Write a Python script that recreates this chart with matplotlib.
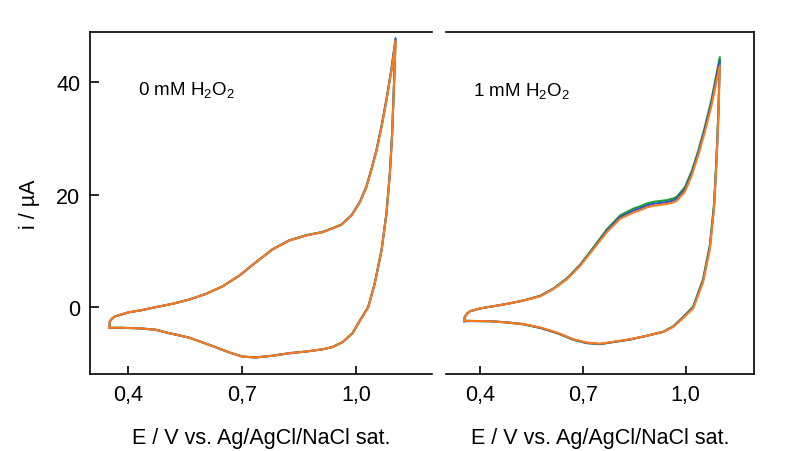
import matplotlib
matplotlib.use("Agg")
import matplotlib.pyplot as plt
from matplotlib.ticker import FixedLocator, FixedFormatter

plt.rcParams['font.family'] = ['Liberation Sans', 'DejaVu Sans']
plt.rcParams['mathtext.fontset'] = 'custom'
plt.rcParams['mathtext.rm'] = 'Liberation Sans'
plt.rcParams['mathtext.it'] = 'Liberation Sans:italic'
plt.rcParams['font.size'] = 15.5

# ---- 0 mM H2O2: anodic sweep then cathodic sweep (E in V, i in uA)
E_fwd_0 = [0.351, 0.352, 0.360, 0.367, 0.402, 0.437, 0.472, 0.516, 0.560, 0.604,
           0.648, 0.692, 0.736, 0.780, 0.824, 0.868, 0.912, 0.935, 0.961, 0.988,
           1.010, 1.027, 1.040, 1.054, 1.067, 1.080, 1.093, 1.104]
i_fwd_0_orange = [-3.75, -2.6, -2.0, -1.7, -1.0, -0.6, -0.1, 0.5, 1.25, 2.26,
                  3.6, 5.5, 7.9, 10.2, 11.8, 12.7, 13.3, 13.9, 14.6, 16.25,
                  18.6, 21.3, 24.3, 27.9, 32.0, 36.8, 42.1, 47.5]
i_fwd_0_green = [-3.75, -2.6, -2.0, -1.7, -1.0, -0.6, -0.1, 0.5, 1.25, 2.26,
                 3.6, 5.5, 7.9, 10.25, 11.85, 12.75, 13.35, 13.95, 14.65, 16.3,
                 18.65, 21.35, 24.4, 28.0, 32.1, 36.9, 42.2, 47.6]
i_fwd_0_blue = [-3.8, -2.6, -2.0, -1.7, -1.0, -0.6, -0.1, 0.5, 1.25, 2.26,
                3.6, 5.5, 7.9, 10.2, 11.8, 12.7, 13.3, 13.9, 14.6, 16.3,
                18.7, 21.4, 24.4, 28.0, 32.2, 37.0, 42.4, 47.9]

E_rev_0 = [1.104, 1.100, 1.095, 1.089, 1.080, 1.067, 1.049, 1.032, 1.005, 0.991,
           0.965, 0.938, 0.912, 0.868, 0.824, 0.780, 0.736, 0.701, 0.666, 0.622,
           0.560, 0.507, 0.472, 0.428, 0.402, 0.384, 0.351]
i_rev_0_orange = [47.5, 39.8, 30.8, 23.7, 16.55, 10.0, 4.05, -0.1, -3.1, -4.7,
                  -6.3, -7.2, -7.6, -8.0, -8.3, -8.75, -9.05, -8.9, -8.15, -7.0,
                  -5.5, -4.7, -4.1, -3.85, -3.8, -3.75, -3.75]
i_rev_0_green = [47.6, 39.9, 30.9, 23.8, 16.6, 10.05, 4.1, -0.05, -3.05, -4.7,
                 -6.3, -7.2, -7.6, -8.0, -8.3, -8.75, -9.05, -8.9, -8.15, -7.0,
                 -5.5, -4.7, -4.1, -3.85, -3.8, -3.75, -3.75]
i_rev_0_blue = [47.9, 40.1, 31.0, 23.9, 16.7, 10.1, 4.1, -0.05, -3.05, -4.7,
                -6.3, -7.2, -7.6, -8.0, -8.3, -8.75, -9.05, -8.9, -8.15, -7.0,
                -5.5, -4.7, -4.1, -3.85, -3.8, -3.8, -3.8]

# ---- 1 mM H2O2
E_fwd_1 = [0.353, 0.354, 0.362, 0.371, 0.400, 0.440, 0.478, 0.526, 0.575, 0.614,
           0.653, 0.692, 0.731, 0.770, 0.809, 0.848, 0.867, 0.886, 0.906, 0.925,
           0.945, 0.964, 0.974, 0.998, 1.018, 1.037, 1.056, 1.076, 1.090, 1.100]
i_fwd_1_orange = [-2.5, -1.9, -1.2, -0.8, -0.3, 0.1, 0.5, 1.1, 1.85, 3.15,
                  4.9, 7.3, 10.3, 13.3, 15.7, 16.8, 17.2, 17.7, 18.0, 18.15,
                  18.3, 18.6, 18.9, 20.5, 23.4, 27.0, 31.1, 35.9, 40.1, 43.0]
i_fwd_1_green = [-2.5, -1.9, -1.2, -0.8, -0.3, 0.1, 0.5, 1.1, 1.95, 3.25,
                 5.05, 7.5, 10.6, 13.8, 16.3, 17.5, 17.9, 18.4, 18.7, 18.85,
                 19.0, 19.3, 19.6, 21.3, 24.2, 27.8, 32.0, 37.0, 41.4, 44.5]
i_fwd_1_blue = [-2.6, -2.0, -1.2, -0.8, -0.3, 0.1, 0.5, 1.1, 1.9, 3.2,
                4.95, 7.4, 10.45, 13.55, 16.0, 17.15, 17.55, 18.05, 18.35, 18.5,
                18.65, 18.95, 19.25, 20.9, 23.8, 27.4, 31.6, 36.5, 40.8, 43.9]

E_rev_1 = [1.100, 1.096, 1.090, 1.083, 1.071, 1.051, 1.022, 0.993, 0.964, 0.935,
           0.886, 0.838, 0.789, 0.750, 0.711, 0.672, 0.624, 0.575, 0.526, 0.478,
           0.429, 0.381, 0.353]
i_rev_1_orange = [43.0, 34.1, 25.2, 17.4, 10.3, 4.35, -0.3, -2.0, -3.6, -4.5,
                  -5.2, -5.8, -6.25, -6.6, -6.4, -5.8, -4.6, -3.7, -3.1, -2.8,
                  -2.6, -2.55, -2.5]
i_rev_1_green = [44.5, 35.0, 26.0, 18.2, 11.0, 4.9, 0.0, -1.8, -3.5, -4.45,
                 -5.2, -5.85, -6.3, -6.7, -6.5, -5.9, -4.7, -3.8, -3.15, -2.8,
                 -2.6, -2.55, -2.5]
i_rev_1_blue = [43.9, 34.6, 25.6, 17.8, 10.7, 4.6, -0.15, -1.9, -3.55, -4.5,
                -5.2, -5.85, -6.3, -6.65, -6.45, -5.85, -4.65, -3.75, -3.1, -2.8,
                -2.6, -2.55, -2.6]

xticks = [0.4, 0.7, 1.0]
xtick_labels = ['0,4', '0,7', '1,0']
yticks = [0, 20, 40]
labels = ['0 mM H$_2$O$_2$', '1 mM H$_2$O$_2$']

colors = {'green': '#1e9e28', 'blue': '#2a55d0', 'orange': '#fb7b1c'}

fig = plt.figure(figsize=(7.87, 4.52), dpi=100)
ax0 = fig.add_axes([0.1144, 0.1704, 0.4346, 0.7566])
ax1 = fig.add_axes([0.5667, 0.1704, 0.3914, 0.7566], sharey=ax0)

panels = [
    (ax0, E_fwd_0, E_rev_0,
     {'green': (i_fwd_0_green, i_rev_0_green),
      'blue': (i_fwd_0_blue, i_rev_0_blue),
      'orange': (i_fwd_0_orange, i_rev_0_orange)}),
    (ax1, E_fwd_1, E_rev_1,
     {'green': (i_fwd_1_green, i_rev_1_green),
      'blue': (i_fwd_1_blue, i_rev_1_blue),
      'orange': (i_fwd_1_orange, i_rev_1_orange)}),
]

for ax, e_f, e_r, scans in panels:
    # green and blue first, orange ends up on top
    for name in ['green', 'blue', 'orange']:
        i_f, i_r = scans[name]
        ax.plot(e_f + e_r, i_f + i_r, color=colors[name], lw=1.5,
                solid_joinstyle='round')
    ax.set_xlim(0.3, 1.2)
    ax.set_ylim(-12, 49)
    ax.xaxis.set_major_locator(FixedLocator(xticks))
    ax.xaxis.set_major_formatter(FixedFormatter(xtick_labels))
    ax.tick_params(axis='x', direction='in', length=6, width=1.2, pad=7)
    ax.tick_params(axis='y', direction='in', length=6.5, width=1.2, pad=7)
    ax.set_xlabel('E / V vs. Ag/AgCl/NaCl sat.', labelpad=16)
    for sp in ax.spines.values():
        sp.set_linewidth(1.2)

ax0.spines['right'].set_visible(False)
ax1.spines['left'].set_visible(False)
ax1.tick_params(axis='y', left=False, labelleft=False)
ax0.yaxis.set_major_locator(FixedLocator(yticks))
ax0.set_ylabel('i / µA', labelpad=12)

ax0.text(0.426, 38.0, labels[0], va='baseline', ha='left', fontsize=13.5)
ax1.text(0.380, 37.8, labels[1], va='baseline', ha='left', fontsize=13.5)

fig.savefig('out.png', dpi=100)
